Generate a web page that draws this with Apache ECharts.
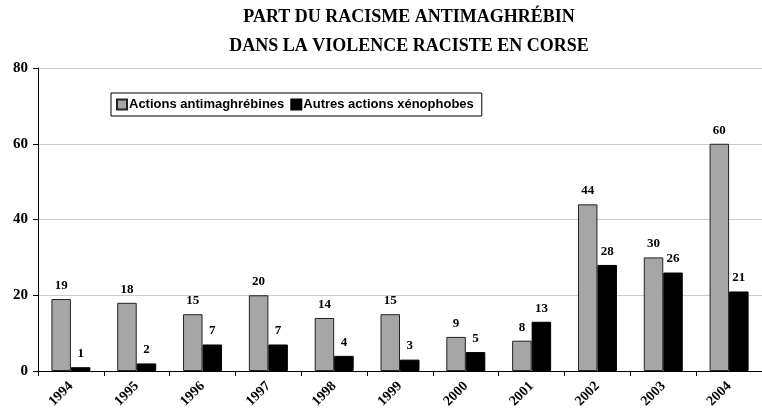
<!DOCTYPE html>
<html>
<head>
<meta charset="utf-8">
<script src="https://cdn.jsdelivr.net/npm/echarts@6/dist/echarts.min.js"></script>
<style>
  html, body { margin: 0; padding: 0; background: #fff; }
  #chart { width: 762px; height: 416px; }
</style>
</head>
<body>
<div id="chart"></div>
<script>
// Incidents by year, Corsica
const years = ['1994','1995','1996','1997','1998','1999','2000','2001','2002','2003','2004'];
const antimaghrebines = [19, 18, 15, 20, 14, 15, 9, 8, 44, 30, 60];
const autresXenophobes = [1, 2, 7, 7, 4, 3, 5, 13, 28, 26, 21];
const yTicks = [0, 20, 40, 60, 80];

const serif = '"Liberation Serif", "Times New Roman", serif';
const sans = '"Liberation Sans", Arial, sans-serif';

const chart = echarts.init(document.getElementById('chart'));

const valueLabel = {
  show: true,
  position: 'top',
  distance: 7,
  fontFamily: serif,
  fontWeight: 'bold',
  fontSize: 13,
  color: '#000'
};

chart.setOption({
  animation: false,
  title: {
    text: 'PART DU RACISME ANTIMAGHRÉBIN\nDANS LA VIOLENCE RACISTE EN CORSE',
    left: 404,
    top: -2,
    textAlign: 'center',
    textStyle: {
      fontFamily: serif,
      fontWeight: 'bold',
      fontSize: 18,
      lineHeight: 29,
      color: '#000'
    }
  },
  legend: {
    left: 111,
    top: 93,
    itemWidth: 10,
    itemHeight: 10,
    itemGap: 6,
    padding: [5, 8, 5, 5],
    borderColor: '#000',
    borderWidth: 1,
    icon: 'rect',
    textStyle: {
      fontFamily: sans,
      fontWeight: 'bold',
      fontSize: 13,
      color: '#000',
      padding: [0, 0, 0, -3]
    },
    data: ['Actions antimaghrébines', 'Autres actions xénophobes']
  },
  grid: {
    left: 38,
    top: 68,
    width: 730,
    height: 303,
    containLabel: false
  },
  xAxis: {
    type: 'category',
    data: years,
    axisLine: { lineStyle: { color: '#000', width: 1 } },
    axisTick: { show: true, length: 5, lineStyle: { color: '#000' } },
    axisLabel: {
      rotate: 45,
      fontFamily: serif,
      fontWeight: 'bold',
      fontSize: 14,
      color: '#000',
      margin: 13
    }
  },
  yAxis: {
    type: 'value',
    min: yTicks[0],
    max: yTicks[yTicks.length - 1],
    interval: 20,
    axisLine: { show: true, lineStyle: { color: '#000', width: 1 } },
    axisTick: { show: true, length: 5, lineStyle: { color: '#000' } },
    axisLabel: {
      fontFamily: serif,
      fontWeight: 'bold',
      fontSize: 15,
      color: '#000',
      margin: 10
    },
    splitLine: { show: true, lineStyle: { color: '#cccccc', width: 1 } }
  },
  series: [
    {
      name: 'Actions antimaghrébines',
      type: 'bar',
      data: antimaghrebines,
      barWidth: 19.5,
      barGap: '0%',
      itemStyle: { color: '#a6a6a6', borderColor: '#222', borderWidth: 1 },
      label: valueLabel
    },
    {
      name: 'Autres actions xénophobes',
      type: 'bar',
      data: autresXenophobes,
      barWidth: 19.5,
      barGap: '0%',
      itemStyle: { color: '#000', borderColor: '#000', borderWidth: 1 },
      label: valueLabel
    }
  ]
});
</script>
</body>
</html>
